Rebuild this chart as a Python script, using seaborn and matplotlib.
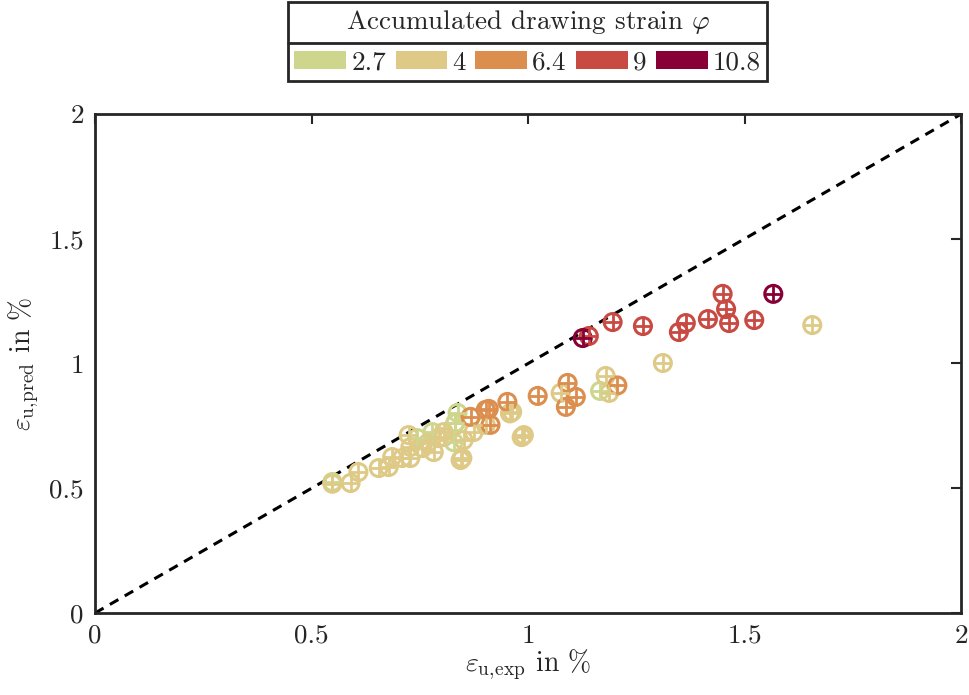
import numpy as np
import pandas as pd
import matplotlib
import matplotlib.pyplot as plt
import seaborn as sns
from matplotlib.patches import Patch
from matplotlib.lines import Line2D
from matplotlib.transforms import IdentityTransform

# ==========================
# Data
# ==========================

strain_levels = ["2.7", "4", "6.4", "9", "10.8"]
strain_colors = ["#CDD68C", "#DECA86", "#DC8E4E", "#C94A43", "#880036"]

# strain 2.7
x_27 = [0.548, 0.744, 0.779, 0.828, 0.832, 0.837, 0.832, 1.166]
y_27 = [0.525, 0.701, 0.725, 0.685, 0.762, 0.802, 0.762, 0.890]

# strain 4
x_4 = [0.548, 0.590, 0.608, 0.655, 0.678, 0.686, 0.709, 0.728, 0.724,
       0.728, 0.756, 0.768, 0.782, 0.793, 0.805, 0.844, 0.851, 0.848,
       0.874, 0.902, 0.963, 0.958, 0.990, 0.985, 1.075, 1.179, 1.187,
       1.311, 1.656, 0.805]
y_4 = [0.518, 0.521, 0.565, 0.581, 0.585, 0.625, 0.621, 0.621, 0.713,
       0.665, 0.661, 0.681, 0.645, 0.701, 0.725, 0.613, 0.693, 0.621,
       0.725, 0.754, 0.806, 0.800, 0.713, 0.705, 0.882, 0.950, 0.882,
       1.002, 1.154, 0.705]

# strain 6.4
x_64 = [0.867, 0.902, 0.909, 0.913, 0.952, 1.022, 1.087, 1.091, 1.110,
        1.206]
y_64 = [0.786, 0.814, 0.818, 0.754, 0.846, 0.870, 0.826, 0.922, 0.866,
        0.912]

# strain 9
x_9 = [1.140, 1.195, 1.265, 1.348, 1.364, 1.415, 1.449, 1.457, 1.464,
       1.522]
y_9 = [1.110, 1.166, 1.150, 1.126, 1.162, 1.178, 1.279, 1.218, 1.162,
       1.174]

# strain 10.8
x_108 = [1.126, 1.566]
y_108 = [1.102, 1.279]

df = pd.concat([
    pd.DataFrame({"exp": x_27, "pred": y_27, "strain": "2.7"}),
    pd.DataFrame({"exp": x_4, "pred": y_4, "strain": "4"}),
    pd.DataFrame({"exp": x_64, "pred": y_64, "strain": "6.4"}),
    pd.DataFrame({"exp": x_9, "pred": y_9, "strain": "9"}),
    pd.DataFrame({"exp": x_108, "pred": y_108, "strain": "10.8"}),
], ignore_index=True)

palette = dict(zip(strain_levels, strain_colors))

# ==========================
# Style
# ==========================

sns.set_style("white")

plt.rcParams["font.family"] = ["cmr10", "DejaVu Serif"]
plt.rcParams["mathtext.fontset"] = "cm"
plt.rcParams["axes.formatter.use_mathtext"] = True
plt.rcParams["font.size"] = 19.5

fig = plt.figure(figsize=(9.7, 6.95), dpi=100)
ax = fig.add_axes([0.098, 0.118, 0.893, 0.718])

# ==========================
# Identity line
# ==========================

ax.plot(
    [0, 2],
    [0, 2],
    color="black",
    linestyle=(0, (3.2, 2.4)),
    linewidth=2.2,
    zorder=1
)

# ==========================
# Scatter (circle + cross)
# ==========================

sns.scatterplot(
    data=df,
    x="exp",
    y="pred",
    hue="strain",
    hue_order=strain_levels,
    palette=palette,
    marker="o",
    s=150,
    facecolor="none",
    linewidth=2.2,
    legend=False,
    ax=ax,
    zorder=3
)

# seaborn puts colors into facecolors; move them to edges
coll = ax.collections[-1]
fc = coll.get_facecolors()
coll.set_edgecolors(fc)
coll.set_facecolors("none")

sns.scatterplot(
    data=df,
    x="exp",
    y="pred",
    hue="strain",
    hue_order=strain_levels,
    palette=palette,
    marker="+",
    s=150,
    linewidth=2.0,
    legend=False,
    ax=ax,
    zorder=3
)

# ==========================
# Axes
# ==========================

ax.set_xlim(0, 2)
ax.set_ylim(0, 2)
ax.set_xticks([0, 0.5, 1, 1.5, 2])
ax.set_yticks([0, 0.5, 1, 1.5, 2])
ax.set_xticklabels(["0", "0.5", "1", "1.5", "2"])
ax.set_yticklabels(["0", "0.5", "1", "1.5", "2"])

ax.tick_params(
    direction="in",
    length=7,
    width=1.5,
    top=True,
    right=True,
    labelsize=19.5,
    pad=8,
    colors="#262626"
)

for side in ax.spines.values():
    side.set_linewidth(2.0)
    side.set_color("#262626")

ax.set_xlabel(r"$\varepsilon_{\mathrm{u,\!exp}}$ in %", fontsize=20, labelpad=0)
ax.set_ylabel(r"$\varepsilon_{\mathrm{u,\!pred}}$ in %", fontsize=20, labelpad=6)

# ==========================
# Legend
# ==========================

handles = [
    Patch(facecolor=c, edgecolor="none", label=l)
    for l, c in zip(strain_levels, strain_colors)
]

leg = fig.legend(
    handles=handles,
    loc="upper center",
    bbox_to_anchor=(0.544, 0.997),
    ncol=5,
    title=r"Accumulated drawing strain $\varphi$",
    title_fontsize=19.5,
    fontsize=19.5,
    frameon=True,
    fancybox=False,
    framealpha=1,
    edgecolor="#262626",
    handlelength=1.9,
    handleheight=0.65,
    handletextpad=0.2,
    columnspacing=0.35,
    labelspacing=0.55,
    borderpad=0.22,
    borderaxespad=0.0
)
leg.get_frame().set_linewidth(2.0)

fig.canvas.draw()
renderer = fig.canvas.get_renderer()

lb = leg.get_window_extent()
tb = leg._legend_title_box.get_window_extent(renderer)
hb = leg._legend_handle_box.get_window_extent(renderer)
y_sep = (tb.y0 + hb.y1) / 2

fig.add_artist(
    Line2D(
        [lb.x0, lb.x1],
        [y_sep, y_sep],
        color="#262626",
        linewidth=2.0,
        transform=IdentityTransform(),
        zorder=10
    )
)

plt.savefig("out.png", dpi=100)

plt.close()
